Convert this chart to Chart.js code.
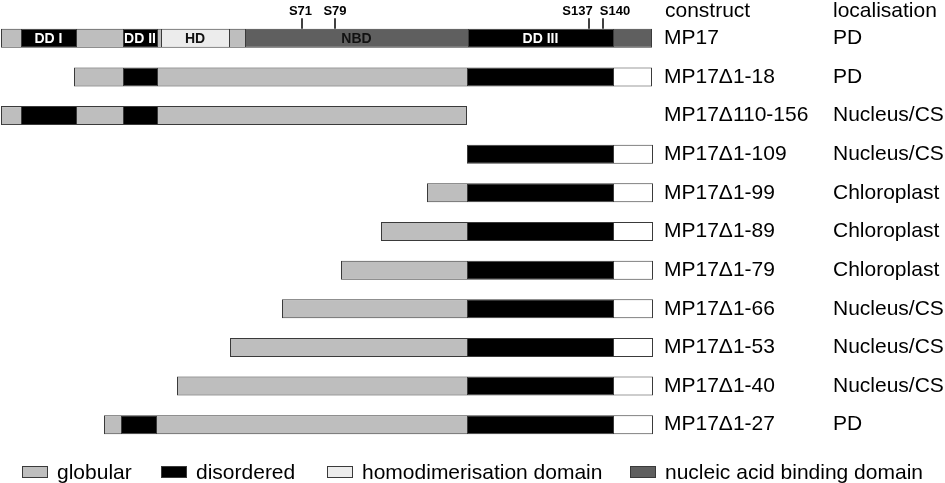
<!DOCTYPE html>
<html><head><meta charset="utf-8">
<script src="https://cdn.jsdelivr.net/npm/chart.js@4/dist/chart.umd.min.js"></script>
<style>html,body{margin:0;padding:0;background:#fff;}</style>
</head><body>
<canvas id="c" width="945" height="483"></canvas>
<script>
// ---- data (schematic position units) ----
const constructs = ['MP17','MP17Δ1-18','MP17Δ110-156','MP17Δ1-109','MP17Δ1-99','MP17Δ1-89','MP17Δ1-79','MP17Δ1-66','MP17Δ1-53','MP17Δ1-40','MP17Δ1-27'];
const localisations = ['PD','PD','Nucleus/CS','Nucleus/CS','Chloroplast','Chloroplast','Chloroplast','Nucleus/CS','Nucleus/CS','Nucleus/CS','PD'];
// segment boundaries along each construct
const segmentEdges = [
  [1,21,76,123,157,161,229,245,468,613,652],
  [74,123,157,467,613,652],
  [1,21,76,123,157,467],
  [467,613,653],
  [427,467,613,653],
  [381,467,613,653],
  [341,467,613,653],
  [282,467,613,653],
  [230,467,613,653],
  [177,467,613,653],
  [104,121,156,467,613,653]
];
// G globular, D disordered, H homodimerisation, N nucleic acid binding, W unassigned
const segmentTypes = [
  ['G','D','G','D','G','H','G','N','D','N'],
  ['G','D','G','D','W'],
  ['G','D','G','D','G'],
  ['D','W'],
  ['G','D','W'],
  ['G','D','W'],
  ['G','D','W'],
  ['G','D','W'],
  ['G','D','W'],
  ['G','D','W'],
  ['G','D','G','D','W']
];
const domainNames = ['DD I','DD II','HD','NBD','DD III'];
const domainSegments = [1,3,5,7,8];
const siteNames = ['S71','S79','S137','S140'];
const sitePositions = [302,335,589,603];
const legendNames = ['globular','disordered','homodimerisation domain','nucleic acid binding domain'];
const legendTypes = ['G','D','H','N'];

// ---- styles ----
const typeColors = {G:'#bebebe', D:'#000000', H:'#ececec', N:'#5f5f5f', W:'#ffffff'};
const edgeColor = '#3a3a3a';
const FONT = 'Liberation Sans, Arial, sans-serif';
const siteLabelShift = [-1.5, 0, -11.5, 12];
const legendX = [22, 161, 327, 630];

const maxSegs = Math.max(...segmentTypes.map(t => t.length));
const datasets = [];
for (let k = 0; k < maxSegs; k++) {
  datasets.push({
    data: segmentTypes.map((t, r) => k < t.length ? [segmentEdges[r][k], segmentEdges[r][k+1]] : null),
    backgroundColor: segmentTypes.map(t => k < t.length ? typeColors[t[k]] : 'rgba(0,0,0,0)'),
    borderColor: edgeColor,
    borderWidth: segmentTypes.map(t => ({top:1, bottom:1, left:1, right: (k === t.length - 1) ? 1 : 0})),
    borderSkipped: false,
    grouped: false,
    barThickness: 19,
    inflateAmount: 0,
    yAxisID: 'y'
  });
}

const overlay = {
  id: 'overlay',
  afterDraw(chart) {
    const {ctx, scales} = chart;
    const xs = scales.x, ys = scales.y, y2 = scales.y2;
    ctx.save();
    // domain labels in the full-length construct
    ctx.font = 'bold 14px ' + FONT;
    ctx.textAlign = 'center';
    ctx.textBaseline = 'middle';
    const yc = ys.getPixelForValue(0);
    domainNames.forEach((name, i) => {
      const k = domainSegments[i];
      const xm = xs.getPixelForValue((segmentEdges[0][k] + segmentEdges[0][k+1]) / 2);
      ctx.fillStyle = segmentTypes[0][k] === 'D' ? '#ffffff' : '#111111';
      ctx.fillText(name, xm, yc + 1);
    });
    // phosphorylation sites
    const barTop = yc - 9.5;
    ctx.strokeStyle = '#000';
    ctx.lineWidth = 1.5;
    ctx.font = 'bold 13px ' + FONT;
    ctx.fillStyle = '#000';
    ctx.textBaseline = 'alphabetic';
    siteNames.forEach((name, i) => {
      const px = Math.round(xs.getPixelForValue(sitePositions[i]));
      ctx.beginPath();
      ctx.moveTo(px, barTop - 10.5);
      ctx.lineTo(px, barTop);
      ctx.stroke();
      ctx.fillText(name, px + siteLabelShift[i], barTop - 13.5);
    });
    // column headers
    ctx.font = '21px ' + FONT;
    ctx.textAlign = 'left';
    ctx.fillStyle = '#000';
    ctx.fillText('construct', ys.left + 5, 17);
    ctx.fillText('localisation', y2.left, 17);
    // legend
    const ly = 472;
    ctx.textBaseline = 'middle';
    legendNames.forEach((name, i) => {
      ctx.fillStyle = typeColors[legendTypes[i]];
      ctx.fillRect(legendX[i], ly - 6, 26, 12);
      ctx.lineWidth = 1;
      ctx.strokeStyle = edgeColor;
      ctx.strokeRect(legendX[i] + 0.5, ly - 6 + 0.5, 25, 11);
      ctx.fillStyle = '#000';
      ctx.fillText(name, legendX[i] + 35, ly + 1);
    });
    ctx.restore();
  }
};

new Chart(document.getElementById('c'), {
  type: 'bar',
  data: { labels: constructs, datasets },
  options: {
    indexAxis: 'y',
    responsive: false,
    animation: false,
    devicePixelRatio: 1,
    layout: { padding: { top: 19, bottom: 39, left: 0, right: 0 } },
    plugins: { legend: { display: false }, tooltip: { enabled: false } },
    scales: {
      x: { type: 'linear', min: 0, max: 660, display: false },
      y: {
        type: 'category', position: 'right', offset: true, weight: 0,
        grid: { display: false, drawTicks: false }, border: { display: false },
        ticks: { color: '#000', font: { size: 21, family: FONT }, padding: 4, crossAlign: 'near' },
        afterFit(s) { s.width = 173; }
      },
      y2: {
        type: 'category', labels: localisations, position: 'right', offset: true, weight: 1,
        grid: { display: false, drawTicks: false }, border: { display: false },
        ticks: { color: '#000', font: { size: 21, family: FONT }, padding: 0, crossAlign: 'near' },
        afterFit(s) { s.width = 112; }
      }
    }
  },
  plugins: [overlay]
});
</script>
</body></html>
